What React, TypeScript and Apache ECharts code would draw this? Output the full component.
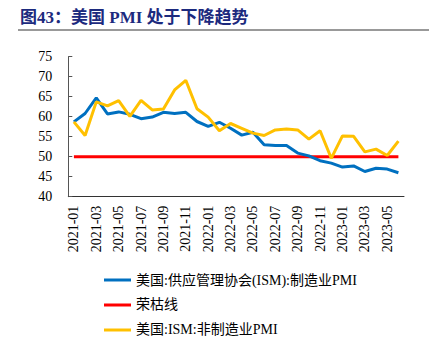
import React, { useEffect, useRef } from "react";
import * as echarts from "echarts";

const months: string[] = [
  "2021-01","2021-02","2021-03","2021-04","2021-05","2021-06","2021-07","2021-08","2021-09","2021-10","2021-11","2021-12",
  "2022-01","2022-02","2022-03","2022-04","2022-05","2022-06","2022-07","2022-08","2022-09","2022-10","2022-11","2022-12",
  "2023-01","2023-02","2023-03","2023-04","2023-05","2023-06",
];

const ismManufacturing: number[] = [
  58.7, 60.8, 64.7, 60.7, 61.2, 60.6, 59.5, 59.9, 61.1, 60.8, 61.1, 58.8,
  57.6, 58.6, 57.1, 55.4, 56.1, 53.0, 52.8, 52.8, 50.9, 50.2, 49.0, 48.4,
  47.4, 47.7, 46.3, 47.1, 46.9, 46.0,
];

const boomBust: number[] = months.map(() => 50);

const ismServices: number[] = [
  58.7, 55.3, 63.7, 62.7, 64.0, 60.1, 64.1, 61.7, 61.9, 66.7, 69.1, 62.0,
  59.9, 56.5, 58.3, 57.1, 55.9, 55.3, 56.7, 56.9, 56.7, 54.4, 56.5, 49.6,
  55.2, 55.1, 51.2, 51.9, 50.3, 53.9,
];

const seriesNames: string[] = [
  "美国:供应管理协会(ISM):制造业PMI",
  "荣枯线",
  "美国:ISM:非制造业PMI",
];

const titleText = "图43：美国 PMI 处于下降趋势";
const FONT = "'Liberation Serif', 'Times New Roman', 'Noto Sans CJK SC', serif";

export default function App() {
  const ref = useRef<HTMLDivElement>(null);
  useEffect(() => {
    if (!ref.current) return;
    const chart = echarts.init(ref.current, undefined, { renderer: "svg" });
    chart.setOption({
      animation: false,
      backgroundColor: "#ffffff",
      textStyle: { fontFamily: FONT },
      graphic: [
        {
          type: "text",
          left: 20,
          top: 9,
          style: {
            text: titleText,
            font: `bold 17px ${FONT}`,
            fill: "#1c2a7e",
          },
        },
        {
          type: "rect",
          shape: { x: 18, y: 29, width: 411, height: 2 },
          style: { fill: "#999999" },
        },
      ],
      legend: {
        orient: "vertical",
        left: 99,
        top: 268,
        height: 100,
        itemWidth: 27,
        itemHeight: 3,
        itemGap: 11,
        icon: "rect",
        data: seriesNames,
        textStyle: { fontFamily: FONT, fontSize: 14, color: "#000" },
      },
      grid: { left: 68.3, right: 25, top: 56.7, bottom: 143.3, containLabel: false },
      xAxis: {
        type: "category",
        data: months,
        boundaryGap: true,
        axisLine: { lineStyle: { color: "#333", width: 1 } },
        axisTick: { inside: true, length: 4, interval: 1, lineStyle: { color: "#333" } },
        axisLabel: {
          interval: 1,
          rotate: 90,
          margin: 9,
          fontFamily: FONT,
          fontSize: 14,
          color: "#000",
        },
        splitLine: { show: false },
      },
      yAxis: {
        type: "value",
        min: 40,
        max: 75,
        interval: 5,
        axisLine: { show: true, lineStyle: { color: "#555", width: 1 } },
        axisTick: { show: true, inside: true, length: 4, lineStyle: { color: "#555" } },
        axisLabel: { margin: 16, fontFamily: FONT, fontSize: 14, color: "#000" },
        splitLine: { show: false },
      },
      series: [
        {
          name: seriesNames[0],
          type: "line",
          data: ismManufacturing,
          symbol: "none",
          lineStyle: { color: "#0070C0", width: 3 },
          itemStyle: { color: "#0070C0" },
          z: 3,
        },
        {
          name: seriesNames[1],
          type: "line",
          data: boomBust,
          symbol: "none",
          lineStyle: { color: "#FF0000", width: 3 },
          itemStyle: { color: "#FF0000" },
          z: 2,
        },
        {
          name: seriesNames[2],
          type: "line",
          data: ismServices,
          symbol: "none",
          lineStyle: { color: "#FFC000", width: 3 },
          itemStyle: { color: "#FFC000" },
          z: 4,
        },
      ],
    });
    return () => chart.dispose();
  }, []);
  return (
    <div
      ref={ref}
      style={{ position: "fixed", left: 0, top: 0, width: 429, height: 340 }}
    />
  );
}
